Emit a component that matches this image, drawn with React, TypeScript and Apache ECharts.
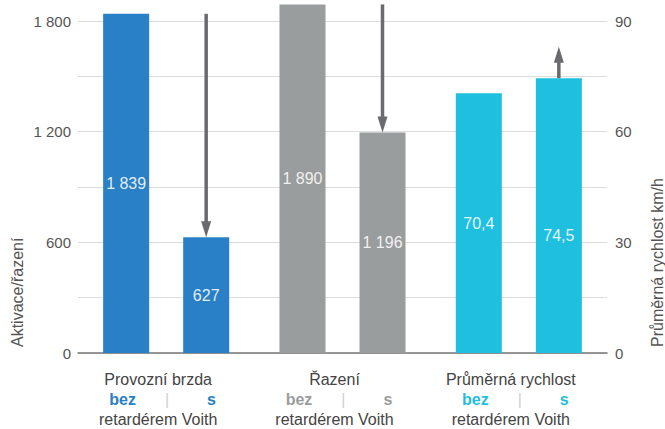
import React, { useEffect, useRef } from "react";
import * as echarts from "echarts";

const categories = ["Provozní brzda", "Řazení", "Průměrná rychlost"];
const bezValues: (number | null)[] = [1839, 1890, null];
const sValues: (number | null)[] = [627, 1196, null];
const speedBez: (number | null)[] = [null, null, 70.4];
const speedS: (number | null)[] = [null, null, 74.5];
const leftTicks = [0, 600, 1200, 1800];
const rightTicks = [0, 30, 60, 90];
// arrows: [category index, from value, to value]
const arrowsLeft = [
  [0, 1839, 627],
  [1, 1890, 1196],
];
const arrowsRight = [[2, 74.5, 83]];

const groupColors = ["#2a80c6", "#9a9d9d", "#1fbfdf"];
const FONT = "'Liberation Sans', 'DejaVu Sans', sans-serif";

const fmt = (v: number) => {
  const s = String(v).replace(".", ",");
  const [i, d] = s.split(",");
  const ii = i.replace(/\B(?=(\d{3})+(?!\d))/g, " ");
  return d ? ii + "," + d : ii;
};

const barLabel = {
  show: true,
  position: "inside",
  color: "rgba(255,255,255,0.88)",
  fontSize: 16,
  fontFamily: FONT,
  formatter: (p: any) => fmt(p.value),
};

const barData = (vals: (number | null)[], labelOffsets?: number[]) =>
  vals.map((v, i) => ({
    value: v == null ? "-" : v,
    itemStyle: { color: groupColors[i] },
    label: labelOffsets ? { ...barLabel, offset: [0, labelOffsets[i]] } : barLabel,
  }));

const arrowRender = (params: any, api: any) => {
  const cat = api.value(0);
  const p1 = api.coord([cat, api.value(1)]);
  const p2 = api.coord([cat, api.value(2)]);
  const x = p1[0] + 40;
  const y1 = p1[1];
  const y2 = p2[1];
  const dir = y2 > y1 ? 1 : -1;
  const head = 16;
  const hw = 5;
  const color = "#6a6a6f";
  return {
    type: "group",
    children: [
      {
        type: "line",
        shape: { x1: x, y1: y1, x2: x, y2: y2 - dir * (head - 2) },
        style: { stroke: color, lineWidth: 3.5 },
      },
      {
        type: "polygon",
        shape: {
          points: [
            [x - hw, y2 - dir * head],
            [x + hw, y2 - dir * head],
            [x, y2],
          ],
        },
        style: { fill: color },
      },
    ],
  };
};

export default function App() {
  const ref = useRef<HTMLDivElement>(null);
  useEffect(() => {
    if (!ref.current) return;
    const chart = echarts.init(ref.current, null, { renderer: "svg" });
    const richFor = (i: number) => ({
      [`b${i}`]: {
        color: groupColors[i],
        fontWeight: "bold",
        fontSize: 16,
        fontFamily: FONT,
        lineHeight: 20,
        padding: [0, 0, 0, 9],
      },
      [`s${i}`]: {
        color: groupColors[i],
        fontWeight: "bold",
        fontSize: 16,
        fontFamily: FONT,
        lineHeight: 20,
        padding: [0, 0, 0, 9],
      },
    });
    chart.setOption({
      animation: false,
      textStyle: { fontFamily: FONT },
      grid: { left: 78, right: 58, top: 21, bottom: 75, containLabel: false },
      xAxis: [
        {
          type: "category",
          data: categories,
          axisLine: { show: true, lineStyle: { color: "#777", width: 1.5 } },
          axisTick: { show: false },
          axisLabel: {
            interval: 0,
            hideOverlap: false,
            margin: 16,
            color: "#444",
            fontSize: 16,
            lineHeight: 20,
            fontFamily: FONT,
            padding: [0, 16, 0, 0],
            formatter: (v: string, idx: number) =>
              `${v}\n{b${idx}|bez}{sep||}{s${idx}|s}\nretardérem Voith`,
            rich: {
              ...richFor(0),
              ...richFor(1),
              ...richFor(2),
              sep: {
                color: "#d0d0d0",
                fontSize: 16,
                padding: [0, 29, 0, 29],
                lineHeight: 20,
                fontFamily: FONT,
              },
            },
          },
        },
        {
          type: "category",
          data: categories,
          show: false,
        },
      ],
      yAxis: [
        {
          type: "value",
          min: 0,
          max: 1800,
          interval: 300,
          axisLine: { show: false },
          axisTick: { show: false },
          splitLine: { lineStyle: { color: "#dcdcdc", width: 1 } },
          axisLabel: {
            margin: 7,
            color: "#555",
            fontSize: 15,
            fontFamily: FONT,
            formatter: (v: number) => (leftTicks.includes(v) ? fmt(v) : ""),
          },
        },
        {
          type: "value",
          min: 0,
          max: 90,
          interval: 15,
          axisLine: { show: false },
          axisTick: { show: false },
          splitLine: { show: false },
          axisLabel: {
            margin: 8,
            color: "#555",
            fontSize: 15,
            fontFamily: FONT,
            formatter: (v: number) => (rightTicks.includes(v) ? fmt(v) : ""),
          },
        },
      ],
      graphic: [
        {
          type: "text",
          x: 17,
          y: 347,
          rotation: Math.PI / 2,
          style: {
            text: "Aktivace/řazení",
            fill: "#555",
            fontSize: 16,
            fontFamily: FONT,
            align: "left",
            verticalAlign: "middle",
          },
        },
        {
          type: "text",
          x: 657,
          y: 347,
          rotation: Math.PI / 2,
          style: {
            text: "Průměrná rychlost km/h",
            fill: "#555",
            fontSize: 16,
            fontFamily: FONT,
            align: "left",
            verticalAlign: "middle",
          },
        },
      ],
      series: [
        {
          name: "bez",
          type: "bar",
          xAxisIndex: 0,
          yAxisIndex: 0,
          data: barData(bezValues),
          barWidth: 46,
          barGap: "74%",
          clip: false,
        },
        {
          name: "s",
          type: "bar",
          xAxisIndex: 0,
          yAxisIndex: 0,
          data: barData(sValues),
          barWidth: 46,
          barGap: "74%",
          clip: false,
        },
        {
          name: "bez km/h",
          type: "bar",
          xAxisIndex: 1,
          yAxisIndex: 1,
          data: barData(speedBez),
          barWidth: 46,
          barGap: "74%",
          clip: false,
        },
        {
          name: "s km/h",
          type: "bar",
          xAxisIndex: 1,
          yAxisIndex: 1,
          data: barData(speedS, [0, 0, 20]),
          barWidth: 46,
          barGap: "74%",
          clip: false,
        },
        {
          type: "custom",
          xAxisIndex: 0,
          yAxisIndex: 0,
          data: arrowsLeft,
          renderItem: arrowRender,
          encode: { x: 0, y: [1, 2] },
          clip: false,
          z: 10,
          silent: true,
        },
        {
          type: "custom",
          xAxisIndex: 1,
          yAxisIndex: 1,
          data: arrowsRight,
          renderItem: arrowRender,
          encode: { x: 0, y: [1, 2] },
          clip: false,
          z: 10,
          silent: true,
        },
      ],
    });
    return () => chart.dispose();
  }, []);
  return <div ref={ref} style={{ width: 665, height: 429, position: "absolute", left: 0, top: 0 }} />;
}
